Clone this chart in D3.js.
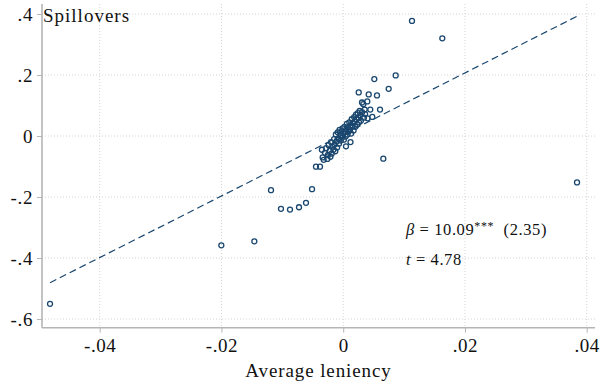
<!DOCTYPE html>
<html>
<head>
<meta charset="utf-8">
<script src="https://cdn.jsdelivr.net/npm/d3@7"></script>
<style>
  html, body { margin: 0; padding: 0; background: #fff; }
  svg { display: block; }
  text { font-family: "Liberation Serif", "DejaVu Serif", serif; fill: #111; }
</style>
</head>
<body>
<svg id="chart" width="603" height="387"></svg>
<script>
// Binned spillovers against average leniency
const leniency = [
  -0.04816, -0.02002, -0.01460, -0.01186, -0.01022, -0.00874, -0.00726, -0.00611,
  -0.00512, -0.00447, -0.00381, -0.00337, 0.00659, 0.03841, 0.01130, 0.01628,
  0.00862, 0.00747, 0.00511, 0.00255, 0.00419, 0.00555, 0.00309, 0.00330,
  0.00396, 0.00445, 0.00605, 0.00353, 0.00478, 0.00046,
  -0.0035, -0.0032, -0.0030, -0.0028, -0.0026, -0.0025, -0.0024, -0.0022,
  -0.0021, -0.0020, -0.0019, -0.0018, -0.0016, -0.0015, -0.0014, -0.0013,
  -0.0012, -0.0011, -0.0010, -0.0009, -0.0008, -0.0007, -0.0006, -0.0005,
  -0.0004, -0.0003, -0.0002, -0.0001, 0.0000, 0.0001, 0.0002, 0.0003,
  0.0004, 0.0005, 0.0006, 0.0007, 0.0008, 0.0009, 0.0010, 0.0011,
  0.0012, 0.0012, 0.0013, 0.0014, 0.0015, 0.0016, 0.0017, 0.0018,
  0.0019, 0.0020, 0.0021, 0.0022, 0.0023, 0.0024, 0.0025, 0.0026,
  0.0027, 0.0028, 0.0029, 0.0031, 0.0034, 0.0036, 0.0040
];
const spillovers = [
  -0.5503, -0.3586, -0.3454, -0.1776, -0.2388, -0.2411, -0.2336, -0.2191,
  -0.1743, -0.1007, -0.1007, -0.0701, -0.0743, -0.1523, 0.3773, 0.3204,
  0.1987, 0.1546, 0.1865, 0.1428, 0.1362, 0.1329, 0.1099, 0.1043,
  0.1132, 0.0868, 0.0868, 0.0868, 0.0625, -0.0339,
  -0.045, -0.078, -0.055, -0.040, -0.075, -0.062, -0.030, -0.048,
  -0.068, -0.020, -0.058, -0.035, -0.045, -0.010, -0.028, -0.050,
  0.005, -0.018, -0.038, 0.012, -0.008, -0.025, 0.020, 0.002,
  -0.015, 0.015, -0.005, 0.025, 0.008, -0.012, 0.030, 0.012,
  -0.002, 0.022, 0.040, 0.005, 0.028, 0.015, 0.045, 0.020,
  0.035, -0.020, 0.008, 0.055, 0.030, 0.042, 0.018, 0.062,
  0.048, 0.030, 0.070, 0.055, 0.038, 0.075, 0.060, 0.045,
  0.082, 0.068, 0.050, 0.078, 0.060, 0.072, 0.058
];

// Fitted line: slope and intercept of the OLS fit
const beta = 10.09;
const intercept = 0.005;
const seBeta = 2.35;
const tStat = 4.78;

const xTicks = [-0.04, -0.02, 0, 0.02, 0.04];
const xTickLabels = ["-.04", "-.02", "0", ".02", ".04"];
const yTicks = [0.4, 0.2, 0, -0.2, -0.4, -0.6];
const yTickLabels = [".4", ".2", "0", "-.2", "-.4", "-.6"];

const navy = "#1a476f";
const svg = d3.select("#chart");

const plot = { left: 42, right: 595, top: 4, bottom: 327.7 };

const x = d3.scaleLinear().domain([-0.04, 0.04]).range([99.7, 586.7]);
const y = d3.scaleLinear().domain([-0.6, 0.4]).range([319, 14]);

// Dotted grid
const grid = svg.append("g");
grid.selectAll("line.gy").data(yTicks).join("line")
  .attr("x1", plot.left).attr("x2", plot.right)
  .attr("y1", d => y(d)).attr("y2", d => y(d))
  .attr("stroke", "#d4d4d4").attr("stroke-width", 1)
  .attr("stroke-dasharray", "1,2");
grid.selectAll("line.gx").data(xTicks).join("line")
  .attr("y1", plot.top).attr("y2", plot.bottom)
  .attr("x1", d => x(d)).attr("x2", d => x(d))
  .attr("stroke", "#d4d4d4").attr("stroke-width", 1)
  .attr("stroke-dasharray", "1,2");

// Axes
const xAxis = d3.axisBottom(x).tickValues(xTicks)
  .tickFormat((d, i) => xTickLabels[i]).tickSize(5).tickPadding(4);
const yAxis = d3.axisLeft(y).tickValues(yTicks)
  .tickFormat((d, i) => yTickLabels[i]).tickSize(5).tickPadding(4);

const gx = svg.append("g").attr("transform", `translate(0,${plot.bottom})`).call(xAxis);
gx.select(".domain").attr("d", `M${plot.left},0H${plot.right}`);
const gy = svg.append("g").attr("transform", `translate(${plot.left},0)`).call(yAxis);
gy.select(".domain").attr("d", `M0,${plot.top}V${plot.bottom}`);

[gx, gy].forEach(g => {
  g.selectAll(".domain").attr("stroke", "#b5b5b5").attr("stroke-width", 1.6);
  g.selectAll(".tick line").attr("stroke", "#b5b5b5").attr("stroke-width", 1);
  g.selectAll(".tick text").attr("font-family", "Liberation Serif, serif")
    .attr("font-size", 19).attr("letter-spacing", 0.6).attr("fill", "#111");
});
gx.selectAll(".tick text").attr("dy", "0.78em");
gy.selectAll(".tick text").attr("dy", "0.34em");

// Fit line across the range of the data
const xExt = d3.extent(leniency);
svg.append("line")
  .attr("x1", x(xExt[0])).attr("y1", y(intercept + beta * xExt[0]))
  .attr("x2", x(xExt[1])).attr("y2", y(intercept + beta * xExt[1]))
  .attr("stroke", navy).attr("stroke-width", 1.2)
  .attr("stroke-dasharray", "7,4");

// Scatter points
svg.append("g").selectAll("circle")
  .data(leniency.map((v, i) => [v, spillovers[i]]))
  .join("circle")
  .attr("cx", d => x(d[0])).attr("cy", d => y(d[1]))
  .attr("r", 2.5)
  .attr("fill", "none").attr("stroke", navy).attr("stroke-width", 1.3);

// Labels
svg.append("text").attr("x", 43).attr("y", 22)
  .attr("font-size", 19).attr("letter-spacing", 1).text("Spillovers");

svg.append("text").attr("x", (plot.left + plot.right) / 2).attr("y", 377)
  .attr("text-anchor", "middle").attr("font-size", 19).attr("letter-spacing", 0.9)
  .text("Average leniency");

// Coefficient annotation
const ann = svg.append("g").attr("font-size", 16.5).attr("letter-spacing", 0.6);
const t1 = ann.append("text").attr("x", 406).attr("y", 235);
t1.append("tspan").attr("font-style", "italic").text("β");
t1.append("tspan").text(` = ${beta.toFixed(2)}`);
t1.append("tspan").attr("dy", -5).attr("font-size", 12).text("***");
t1.append("tspan").attr("dy", 5).text(`\u00A0\u00A0(${seBeta.toFixed(2)})`);
const t2 = ann.append("text").attr("x", 406).attr("y", 265);
t2.append("tspan").attr("font-style", "italic").text("t");
t2.append("tspan").text(` = ${tStat.toFixed(2)}`);
</script>
</body>
</html>
